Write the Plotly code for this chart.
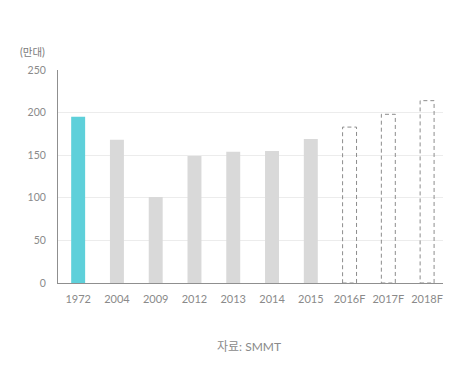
import plotly.graph_objects as go

categories = ["1972", "2004", "2009", "2012", "2013", "2014", "2015", "2016F", "2017F", "2018F"]
actual_values = [195, 168, 101, 149, 154, 155, 169, None, None, None]
forecast_values = [None, None, None, None, None, None, None, 183, 198, 214]
bar_colors = ["#5ed0da", "#d9d9d9", "#d9d9d9", "#d9d9d9", "#d9d9d9", "#d9d9d9", "#d9d9d9", "#d9d9d9", "#d9d9d9", "#d9d9d9"]
y_ticks = [0, 50, 100, 150, 200, 250]

FONT = "Lato, 'Noto Sans CJK KR', sans-serif"
BAR_W = 0.36
xs = list(range(len(categories)))

fig = go.Figure()
fig.add_trace(go.Bar(
    x=[x for x, v in zip(xs, actual_values) if v is not None],
    y=[v for v in actual_values if v is not None],
    marker=dict(color=[c for c, v in zip(bar_colors, actual_values) if v is not None], line=dict(width=0)),
    width=BAR_W,
    hoverinfo="skip",
))

shapes = []
for x, v in zip(xs, forecast_values):
    if v is None:
        continue
    shapes.append(dict(type="rect", xref="x", yref="y",
                       x0=x - BAR_W / 2, x1=x + BAR_W / 2, y0=0, y1=v,
                       line=dict(color="#8c8c8c", width=1, dash="4px,3px"),
                       fillcolor="rgba(0,0,0,0)", layer="above"))

fig.update_layout(
    width=469, height=375,
    margin=dict(l=50, r=34, t=62, b=100),
    paper_bgcolor="white", plot_bgcolor="white",
    showlegend=False,
    shapes=shapes,
    font=dict(family=FONT, color="#8a8a8a", size=10),
    xaxis=dict(
        range=[-0.52, 9.41],
        tickmode="array", tickvals=xs, ticktext=categories,
        showgrid=False, zeroline=False,
        showline=True, linecolor="#8f8f8f", linewidth=1,
        ticks="", ticklabelstandoff=6, automargin=False,
        tickfont=dict(size=11, color="#8a8a8a", family=FONT),
        fixedrange=True,
    ),
    yaxis=dict(
        range=[0, 250],
        tickmode="array", tickvals=y_ticks,
        showgrid=True, gridcolor="#ececec", gridwidth=1,
        zeroline=False,
        showline=True, linecolor="#8f8f8f", linewidth=1,
        ticks="", ticklabelstandoff=9, automargin=False,
        tickfont=dict(size=10.5, color="#8a8a8a", family=FONT),
        fixedrange=True,
    ),
    annotations=[
        dict(text="(만대)", xref="paper", yref="paper", x=-0.065, y=1.085,
             xanchor="center", yanchor="middle", showarrow=False,
             font=dict(size=10.5, color="#7a7a7a", family=FONT)),
        dict(text="자료: SMMT", xref="paper", yref="paper", x=0.496, y=-0.30,
             xanchor="center", yanchor="middle", showarrow=False,
             font=dict(size=12, color="#8a8a8a", family=FONT)),
    ],
)

fig.write_html("out.html")
